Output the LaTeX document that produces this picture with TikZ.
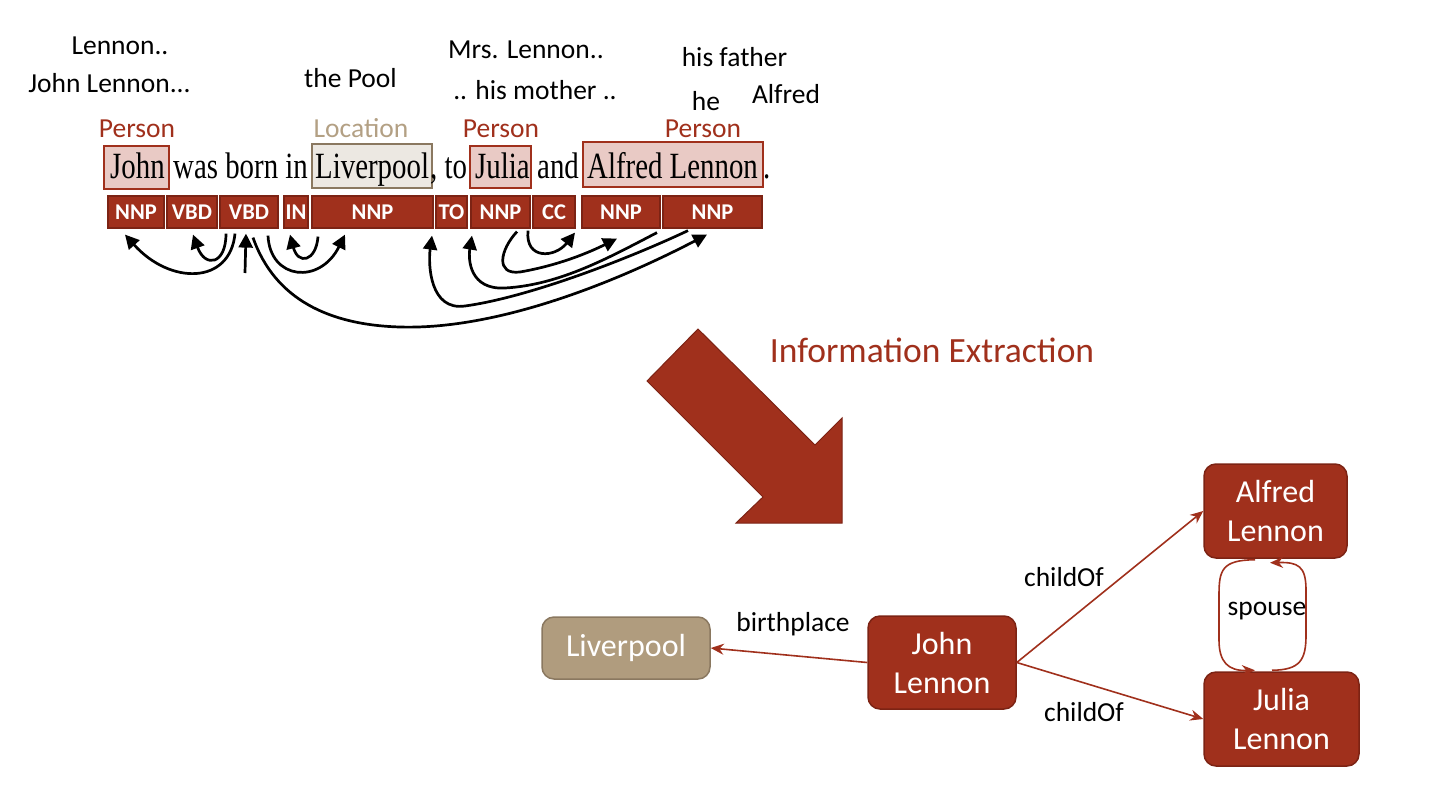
\documentclass[tikz,border=0pt]{standalone}
\usepackage{fontspec}
\setmainfont{Carlito}
\newfontfamily\sentfont[FakeStretch=0.78]{Liberation Serif}
\usetikzlibrary{arrows.meta,calc}
\definecolor{ired}{HTML}{A0301C}
\definecolor{iredd}{HTML}{7C2314}
\definecolor{itan}{HTML}{B09C7E}
\definecolor{itand}{HTML}{8A7860}
\definecolor{ipink}{HTML}{E9CAC5}
\definecolor{ibeige}{HTML}{ECE8E2}
\definecolor{ilabtan}{HTML}{B3A084}
\begin{document}
\begin{tikzpicture}[x=1pt,y=-1pt,
 lab/.style={font=\fontsize{27.5}{33}\selectfont, inner sep=0},
 ent/.style={font=\fontsize{27.5}{33}\selectfont, inner sep=0, text=ired},
 word/.style={font=\sentfont\fontsize{37}{40}\selectfont, inner sep=0, anchor=base west},
 wbox/.style={draw=ired, fill=ipink, line width=1.8pt, inner sep=0},
 tag/.style={draw=iredd, fill=ired, line width=1.2pt, text=white, font=\bfseries\fontsize{22.5}{26}\selectfont, minimum height=32pt, inner sep=0},
 dep/.style={line width=2.7pt, -{Triangle[length=14pt,width=14pt]}},
 gnode/.style={draw=iredd, fill=ired, rounded corners=12pt, line width=1.5pt, text=white, font=\fontsize{32}{39}\selectfont, align=center, inner sep=0},
 gedge/.style={draw=ired, line width=1.6pt, -{Stealth[length=13pt,width=11pt]}},
 elab/.style={font=\fontsize{27.5}{33}\selectfont, inner sep=0},
]
\useasboundingbox (0,0) rectangle (1432,790);

% mention labels
\node[lab] (m1) at (120,46) {Lennon..};
\node[lab] (m2) at (109.5,83) {John Lennon...};
\node[lab] (m3) at (350.5,78) {the Pool};
\node[lab] (m4) at (526,50) {Mrs. Lennon..};
\node[lab] (m5) at (535,90) {.. his mother ..};
\node[lab] (m6) at (734.5,57) {his father};
\node[lab] (m7) at (706,101) {he};
\node[lab] (m8) at (786,94) {Alfred};

% entity type labels
\node[ent] (e1) at (137,129) {Person};
\node[ent, text=ilabtan] (e2) at (361,128) {Location};
\node[ent] (e3) at (501,129) {Person};
\node[ent] (e4) at (703,129) {Person};

% entity boxes
\node[wbox, minimum width=65pt, minimum height=43pt] (b1) at (136.5,167.5) {};
\node[wbox, draw=itand, fill=ibeige, minimum width=120pt, minimum height=44pt] (b2) at (372,166) {};
\node[wbox, minimum width=61pt, minimum height=42pt] (b3) at (500.5,167) {};
\node[wbox, minimum width=180pt, minimum height=45pt] (b4) at (673,164.5) {};

% sentence
\node[word] (w1) at (110,178) {John};
\node[word] (w2) at (173,178) {was born in};
\node[word] (w3) at (315,178) {Liverpool};
\node[word] (w4) at (430,178) {, to};
\node[word] (w5) at (475,178) {Julia};
\node[word] (w6) at (537,178) {and};
\node[word] (w7) at (587,178) {Alfred Lennon};
\node[word] (w8) at (763,178) {.};

% POS tags
\node[tag, minimum width=56pt] (t1) at (136,212) {NNP};
\node[tag, minimum width=50pt] (t2) at (192,212) {VBD};
\node[tag, minimum width=58pt] (t3) at (249,212) {VBD};
\node[tag, minimum width=24pt] (t4) at (296,212) {IN};
\node[tag, minimum width=121pt] (t5) at (372.5,212) {NNP};
\node[tag, minimum width=31pt] (t6) at (451.5,212) {TO};
\node[tag, minimum width=59pt] (t7) at (500.5,212) {NNP};
\node[tag, minimum width=42pt] (t8) at (554,212) {CC};
\node[tag, minimum width=78pt] (t9) at (621,212) {NNP};
\node[tag, minimum width=99pt] (t10) at (712.5,212) {NNP};

% dependency arcs
\draw[dep] ($(t3.south)+(-14,5)$) .. controls (230,285) and (170,285) .. ($(t1.south)+(-11,6)$);
\draw[dep] ($(t3.south)+(-23,5)$) .. controls (226,265) and (205,268) .. ($(t2.south)+(1,6)$);
\coordinate (root) at (245,273);
\draw[dep] (root) -- ($(t3.south)+(-3,5)$);
\draw[dep] ($(t5.south)+(-54.5,8)$) .. controls (316,262) and (298,265) .. ($(t4.south)+(-6,6)$);
\draw[dep] ($(t3.south)+(19,7)$) .. controls (270,280) and (320,285) .. ($(t5.south)+(-27.5,6)$);
\draw[dep] ($(t3.south)+(4,9)$) .. controls (275,300) and (330,325) .. (400,327) .. controls (500,330) and (620,280) .. ($(t10.south)+(-5.5,6)$);
\draw[dep] ($(t10.south)+(-24.5,2)$) .. controls (630,258) and (530,297) .. (465,306) .. controls (430,311) and (428,265) .. ($(t6.south)+(-19.5,7)$);
\draw[dep] ($(t9.south)+(36,4)$) .. controls (610,257) and (560,285) .. (505,288) .. controls (470,290) and (468,260) .. ($(t7.south)+(-28.5,7)$);
\draw[dep] ($(t7.south)+(16.5,3)$) .. controls (500,250) and (495,275) .. (520,272) .. controls (560,265) and (590,252) .. ($(t9.south)+(-4,10)$);
\draw[dep] ($(t7.south)+(27.5,2)$) .. controls (525,260) and (555,258) .. ($(t8.south)+(21,4)$);

% big arrow
\filldraw[fill=ired, draw=iredd, line width=1pt] (698,329) -- (815,445) -- (842,418) -- (842,523) -- (736,523) -- (763,497) -- (647,381) -- cycle;
\node[font=\fontsize{35.5}{40}\selectfont, text=ired, inner sep=0] (ie) at (932,350) {Information Extraction};

% knowledge graph
\node[gnode, fill=itan, draw=itand, minimum width=168pt, minimum height=62pt] (lv) at (626,648) {Liverpool};
\node[gnode, minimum width=148pt, minimum height=93pt] (jl) at (942,662.5) {John\\Lennon};
\node[gnode, minimum width=143pt, minimum height=94pt] (al) at (1275.5,511) {Alfred\\Lennon};
\node[gnode, minimum width=155pt, minimum height=94pt] (ju) at (1281.5,719) {Julia\\Lennon};

\draw[gedge] (jl.west) -- (lv.east);
\draw[gedge] (jl.east) -- (al.west);
\draw[gedge] (jl.east) -- (ju.west);
\draw[gedge] ($(al.south)+(-20.5,1)$) .. controls (1222,560) and (1219,570) .. (1219,595) -- (1219,640) .. controls (1219,662) and (1228,671) .. ($(ju.north)+(-26.5,-1)$);
\draw[gedge] ($(ju.north)+(-9.5,-1)$) .. controls (1300,670) and (1306,660) .. (1306,635) -- (1306,590) .. controls (1306,566) and (1298,562) .. ($(al.south)+(-5.5,4)$);

\node[elab] (lb1) at (793,624) {birthplace};
\node[elab] (lb2) at (1064,577) {childOf};
\node[elab] (lb3) at (1084,712) {childOf};
\node[elab] (lb4) at (1267,611) {spouse};
\end{tikzpicture}
\end{document}
